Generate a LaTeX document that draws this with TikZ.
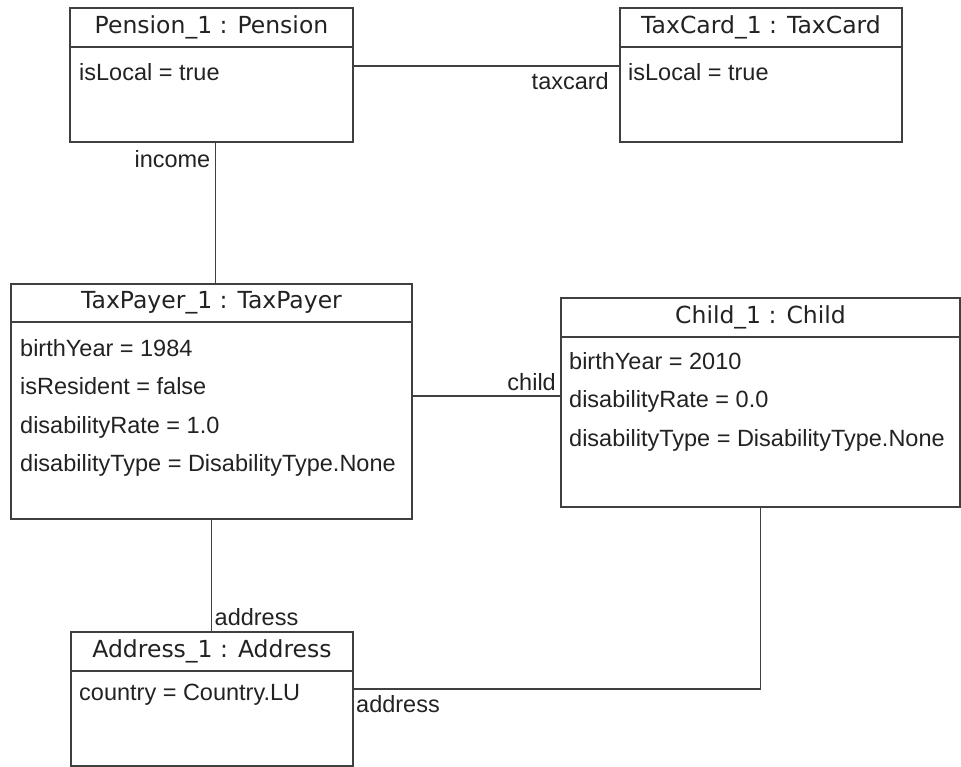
\documentclass[tikz,border=0pt]{standalone}
\usepackage{fontspec}
\setmainfont{Liberation Sans}
\newfontfamily\headfamily{DejaVu Sans}
\usetikzlibrary{positioning}
\definecolor{linegray}{RGB}{64,64,64}
\definecolor{textgray}{RGB}{34,34,34}
\tikzset{
  objhead/.style={draw=linegray, line width=1.3pt, anchor=north west, inner sep=0pt, outer sep=0pt, text=textgray, font=\headfamily\fontsize{23.5}{28}\selectfont},
  objbody/.style={draw=linegray, line width=1.3pt, anchor=north west, inner sep=0pt, outer sep=0pt},
  attr/.style={anchor=base west, inner sep=0pt, text=textgray, font=\fontsize{23.5}{28}\selectfont},
  role/.style={inner sep=0pt, text=textgray, font=\fontsize{23.5}{28}\selectfont},
  link/.style={draw=linegray, line width=1.3pt}
}
\begin{document}
\begin{tikzpicture}[x=1pt, y=-1pt]
\useasboundingbox (0,0) rectangle (961,766);
% objects
\node[objhead, minimum width=283pt, minimum height=39pt] (pensionhead) at (70,8) {Pension\_1 : Pension};
\node[objbody, minimum width=283pt, minimum height=95pt] (pension) at (pensionhead.south west) {};
\node[attr] (pensionlocal) at ([shift={(9pt,-33pt)}]pension.north west) {isLocal = true};

\node[objhead, minimum width=282pt, minimum height=39pt] (taxcardhead) at (620,8) {TaxCard\_1 : TaxCard};
\node[objbody, minimum width=282pt, minimum height=95pt] (taxcard) at (taxcardhead.south west) {};
\node[attr] (taxcardlocal) at ([shift={(8pt,-33pt)}]taxcard.north west) {isLocal = true};

\node[objhead, minimum width=401pt, minimum height=38pt] (taxpayerhead) at (11,284) {TaxPayer\_1 : TaxPayer};
\node[objbody, minimum width=401pt, minimum height=197pt] (taxpayer) at (taxpayerhead.south west) {};
\node[attr] (payerbirth) at ([shift={(9pt,-34pt)}]taxpayer.north west) {birthYear = 1984};
\node[attr] (payerresident) at ([yshift=-38.5pt]payerbirth.base west) {isResident = false};
\node[attr] (payerrate) at ([yshift=-38.5pt]payerresident.base west) {disabilityRate = 1.0};
\node[attr] (payertype) at ([yshift=-38.5pt]payerrate.base west) {disabilityType = DisabilityType.None};

\node[objhead, minimum width=399pt, minimum height=39pt] (childhead) at (561,298) {Child\_1 : Child};
\node[objbody, minimum width=399pt, minimum height=170pt] (child) at (childhead.south west) {};
\node[attr] (childbirth) at ([shift={(8pt,-32pt)}]child.north west) {birthYear = 2010};
\node[attr] (childrate) at ([yshift=-38.5pt]childbirth.base west) {disabilityRate = 0.0};
\node[attr] (childtype) at ([yshift=-38.5pt]childrate.base west) {disabilityType = DisabilityType.None};

\node[objhead, minimum width=282pt, minimum height=39pt] (addresshead) at (71,632) {Address\_1 : Address};
\node[objbody, minimum width=282pt, minimum height=95pt] (address) at (addresshead.south west) {};
\node[attr] (addresscountry) at ([shift={(8pt,-29pt)}]address.north west) {country = Country.LU};

% links
\coordinate (cardlink) at ([yshift=28.5pt]pension.east);
\coordinate (cardend) at (cardlink -| taxcard.west);
\draw[link] (cardlink) -- (cardend);
\node[role, anchor=north east] (cardrole) at ([shift={(-11pt,-6pt)}]cardend) {taxcard};

\draw[link] ([xshift=4pt]pension.south) -- ([xshift=4pt]taxpayerhead.north);
\node[role, anchor=north east] (incomerole) at ([shift={(-1pt,-8pt)}]pension.south) {income};

\coordinate (childlink) at ([yshift=24.5pt]taxpayer.east);
\coordinate (childend) at (childlink -| child.west);
\draw[link] (childlink) -- (childend);
\node[role, anchor=base east] (childrole) at ([shift={(-5pt,6pt)}]childend) {child};

\coordinate (addrtop) at (taxpayer.south |- addresshead.north);
\draw[link] (taxpayer.south) -- (addrtop);
\node[role, anchor=base west] (addressrole) at ([shift={(3pt,7pt)}]addrtop) {address};

\coordinate (addrlink) at ([yshift=29.5pt]address.east);
\draw[link] (child.south) |- (addrlink);
\node[role, anchor=north west] (childaddressrole) at ([shift={(3pt,-6pt)}]addrlink) {address};
\end{tikzpicture}
\end{document}
